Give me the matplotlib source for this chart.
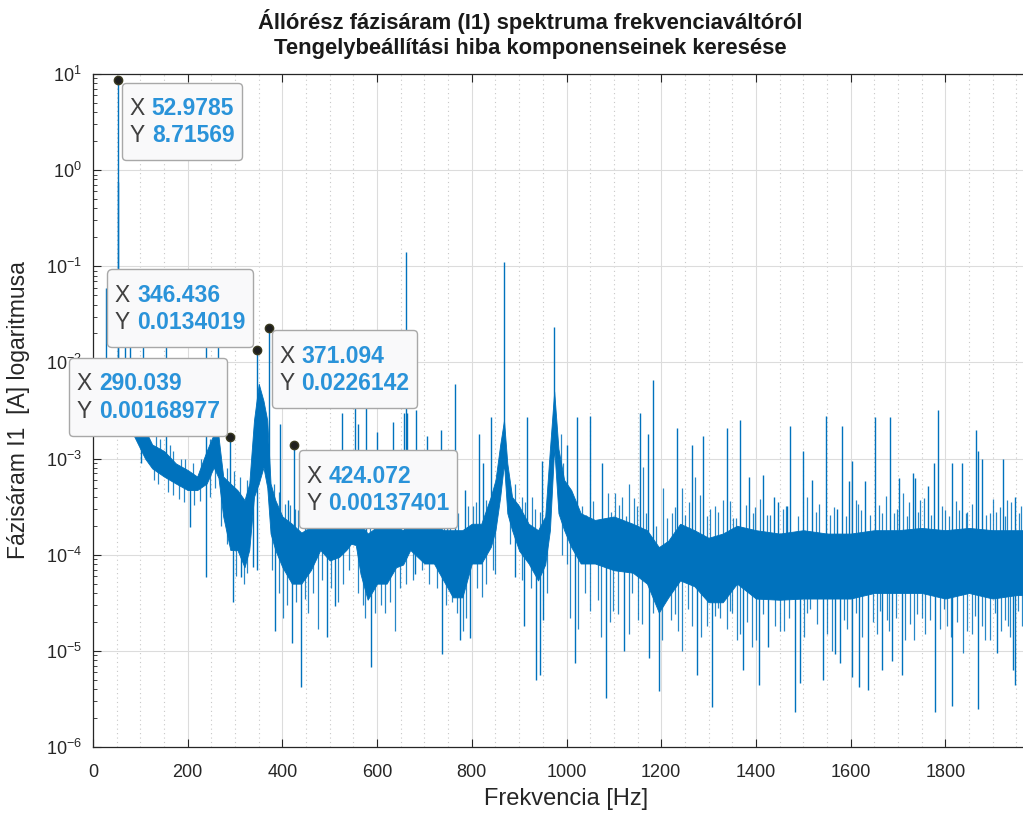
import numpy as np
import matplotlib.pyplot as plt
from matplotlib.offsetbox import TextArea, HPacker, VPacker, AnnotationBbox, DrawingArea
from matplotlib.ticker import FixedLocator, MultipleLocator, NullFormatter

plt.rcParams['font.family'] = ['Liberation Sans', 'DejaVu Sans']

# --- spectrum ---
# dense noise band: frequency [Hz], upper and lower edge [A]
env_f = [0, 20, 45, 60, 80, 100, 110, 125, 150, 175,
         200, 220, 240, 255, 265, 275, 290, 305, 320, 330,
         340, 350, 360, 368, 375, 385, 400, 420, 440, 460,
         480, 500, 520, 535, 545, 555, 565, 580, 600, 620,
         640, 655, 670, 700, 720, 740, 760, 780, 800, 820,
         840, 850, 860, 868, 875, 885, 900, 920, 940, 955,
         965, 974, 983, 995, 1010, 1030, 1060, 1100, 1140, 1170,
         1195, 1215, 1240, 1270, 1300, 1330, 1360, 1400, 1450, 1500,
         1550, 1600, 1650, 1700, 1750, 1800, 1850, 1900, 1950, 2000]
env_hi = [5.0e-3, 5.0e-3, 6.0e-3, 6.0e-3, 5.0e-3, 3.2e-3, 2.0e-3, 1.4e-3, 1.2e-3, 8.9e-4,
          7.6e-4, 6.5e-4, 1.2e-3, 1.8e-3, 1.7e-3, 6.5e-4, 5.5e-4, 4.7e-4, 3.7e-4, 5.5e-4,
          2.5e-3, 6.0e-3, 4.0e-3, 2.5e-3, 5.5e-4, 3.7e-4, 2.5e-4, 2.1e-4, 1.7e-4, 1.95e-4,
          2.1e-4, 2.1e-4, 2.1e-4, 2.1e-4, 2.0e-4, 1.9e-4, 2.1e-4, 1.66e-4, 1.95e-4, 2.1e-4,
          1.95e-4, 1.8e-4, 2.1e-4, 2.3e-4, 2.1e-4, 1.8e-4, 1.8e-4, 1.8e-4, 2.1e-4, 2.1e-4,
          4.0e-4, 6.0e-4, 1.4e-3, 2.5e-3, 8.9e-4, 4.0e-4, 3.2e-4, 2.1e-4, 1.8e-4, 2.5e-4,
          1.26e-3, 5.0e-3, 1.26e-3, 6.0e-4, 4.7e-4, 2.7e-4, 2.3e-4, 2.5e-4, 2.1e-4, 1.8e-4,
          1.2e-4, 1.4e-4, 2.1e-4, 1.8e-4, 1.5e-4, 1.66e-4, 2.0e-4, 1.8e-4, 1.66e-4, 1.8e-4,
          1.66e-4, 1.66e-4, 1.8e-4, 1.8e-4, 1.9e-4, 1.8e-4, 1.9e-4, 1.8e-4, 1.8e-4, 1.8e-4]
env_lo = [2.5e-3, 2.5e-3, 2.5e-3, 2.5e-3, 2.0e-3, 1.26e-3, 1.0e-3, 7.9e-4, 6.5e-4, 5.5e-4,
          4.7e-4, 4.7e-4, 5.5e-4, 8.1e-4, 6.3e-4, 2.5e-4, 1.12e-4, 1.12e-4, 7.4e-5, 1.12e-4,
          4.0e-4, 5.5e-4, 8.1e-4, 5.0e-4, 1.66e-4, 1.12e-4, 7.4e-5, 5.0e-5, 5.0e-5, 6.9e-5,
          1.12e-4, 8.7e-5, 9.5e-5, 1.12e-4, 1.3e-4, 1.26e-4, 6.3e-5, 3.4e-5, 5.0e-5, 5.0e-5,
          7.4e-5, 7.9e-5, 1.12e-4, 8.1e-5, 8.1e-5, 5.4e-5, 3.6e-5, 3.6e-5, 8.1e-5, 8.1e-5,
          1.2e-4, 1.8e-4, 4.0e-4, 8.9e-4, 2.7e-4, 1.8e-4, 1.1e-4, 8.1e-5, 5.4e-5, 7.9e-5,
          1.8e-4, 1.3e-3, 2.7e-4, 1.8e-4, 1.2e-4, 8.1e-5, 8.1e-5, 6.9e-5, 6.5e-5, 5.0e-5,
          2.5e-5, 3.6e-5, 5.4e-5, 4.7e-5, 3.2e-5, 3.2e-5, 5.0e-5, 3.5e-5, 3.4e-5, 3.5e-5,
          3.5e-5, 3.5e-5, 4.0e-5, 4.0e-5, 4.0e-5, 3.5e-5, 4.0e-5, 3.5e-5, 3.8e-5, 3.8e-5]

# single lines sticking out of the band upwards
up_f = [27, 52.5, 52.9785, 68, 78, 106, 154, 239, 264, 290.039,
        346.436, 371.094, 395, 412, 424.072, 526, 553, 560, 577, 600,
        634, 657, 660, 663, 682, 706, 716, 735, 765, 786,
        815, 824, 840, 868, 917, 949, 974, 1000, 1022, 1050,
        1075, 1156, 1173, 1183, 1234, 1266, 1289, 1340, 1367, 1386,
        1416, 1439, 1447, 1466, 1473, 1500, 1519, 1549, 1572, 1582,
        1597, 1604, 1631, 1652, 1684, 1703, 1731, 1737, 1764, 1777,
        1785, 1815, 1836, 1864, 1870, 1878, 1921, 1948]
up_v = [0.06, 0.75, 8.71569, 0.02, 0.02, 0.02, 0.02, 0.02, 0.02, 0.00168977,
        0.0134019, 0.0226142, 2.3e-3, 3.7e-4, 0.00137401, 3.0e-3, 3.5e-3, 2.3e-3, 3.5e-3, 1.9e-3,
        2.4e-3, 3.0e-3, 0.14, 3.0e-3, 3.2e-3, 1.7e-3, 5.5e-4, 2.0e-3, 5.9e-3, 4.7e-4,
        1.8e-3, 8.9e-4, 2.7e-3, 0.11, 2.7e-3, 9.5e-4, 0.0235, 1.4e-3, 2.7e-3, 2.8e-3,
        9.1e-4, 3.0e-3, 1.8e-3, 6.6e-3, 2.1e-3, 1.4e-3, 1.7e-3, 2.1e-3, 2.5e-3, 6.5e-4,
        6.8e-4, 4.0e-4, 3.5e-4, 3.2e-4, 2.2e-3, 1.2e-3, 6.0e-4, 2.8e-3, 3.0e-4, 2.2e-3,
        5.9e-4, 9.5e-4, 5.9e-4, 2.7e-3, 2.7e-3, 6.3e-4, 7.1e-4, 6.3e-4, 5.2e-4, 8.9e-4,
        3.2e-3, 8.9e-4, 8.9e-4, 2.0e-3, 1.2e-3, 1.0e-3, 1.0e-3, 4.0e-4]

# single lines sticking out of the band downwards
dn_f = [101, 205, 239, 296, 313, 338, 346, 385, 420, 440,
        494, 511, 587, 680, 737, 775, 797, 892, 911, 936,
        943, 950, 1018, 1084, 1122, 1175, 1196, 1276, 1308, 1373,
        1407, 1426, 1483, 1494, 1542, 1568, 1578, 1604, 1618, 1637,
        1667, 1688, 1709, 1779, 1815, 1870, 1910, 1942, 1948]
dn_v = [8.9e-4, 1.95e-4, 5.9e-5, 3.2e-5, 5.9e-5, 7.4e-5, 6.9e-5, 1.6e-5, 1.2e-5, 4.2e-6,
        1.4e-5, 2.9e-5, 6.8e-6, 6.3e-5, 9.3e-6, 1.3e-5, 1.35e-5, 5.9e-5, 1.8e-5, 5.0e-6,
        5.6e-6, 2.1e-5, 7.4e-6, 3.2e-6, 1.0e-5, 8.5e-6, 3.8e-6, 5.6e-6, 2.6e-6, 6.3e-6,
        4.4e-6, 1.1e-5, 2.3e-6, 4.6e-6, 5.0e-6, 9.3e-6, 7.4e-6, 5.4e-6, 4.2e-6, 3.9e-6,
        6.3e-6, 7.9e-6, 5.6e-6, 2.3e-6, 2.7e-6, 2.5e-6, 9.5e-6, 6.3e-6, 4.4e-6]

# short ragged lines at the upper edge of the band
fr_up_f = [132, 141, 162, 170, 185, 195, 212, 228, 247, 283,
           298, 311, 325, 382, 392, 406, 416, 426, 433, 447,
           458, 469, 476, 488, 497, 505, 515, 533, 548, 568,
           586, 594, 606, 611, 626, 645, 648, 668, 690, 712,
           722, 728, 742, 748, 755, 770, 793, 803, 808, 830,
           892, 898, 906, 913, 927, 933, 944, 988, 993, 1005,
           1012, 1033, 1042, 1057, 1088, 1095, 1103, 1110, 1118, 1126,
           1131, 1143, 1149, 1162, 1168, 1188, 1204, 1212, 1223, 1229,
           1244, 1251, 1259, 1272, 1281, 1296, 1303, 1314, 1320, 1331,
           1345, 1352, 1358, 1379, 1393, 1399, 1408, 1423, 1430, 1458,
           1464, 1488, 1508, 1527, 1534, 1556, 1565, 1590, 1611, 1616,
           1623, 1641, 1660, 1667, 1674, 1692, 1697, 1711, 1719, 1724,
           1742, 1747, 1756, 1770, 1792, 1800, 1808, 1822, 1829, 1843,
           1846, 1857, 1885, 1895, 1901, 1908, 1915, 1927, 1931, 1938,
           1955, 1959, 1966, 1975, 1988, 1996]
fr_up_v = [1.7e-3, 1.6e-3, 1.4e-3, 1.2e-3, 1.0e-3, 1.0e-3, 9.0e-4, 1.0e-3, 1.6e-3, 8.0e-4,
           7.5e-4, 6.5e-4, 6.0e-4, 5.5e-4, 4.5e-4, 3.4e-4, 3.3e-4, 3.0e-4, 2.9e-4, 2.7e-4,
           3.0e-4, 2.5e-4, 3.3e-4, 3.0e-4, 3.2e-4, 2.9e-4, 3.4e-4, 3.1e-4, 3.0e-4, 2.5e-4,
           2.8e-4, 3.3e-4, 2.9e-4, 2.5e-4, 3.1e-4, 2.4e-4, 2.8e-4, 3.5e-4, 3.6e-4, 3.0e-4,
           3.7e-4, 3.4e-4, 2.9e-4, 4.0e-4, 3.1e-4, 2.7e-4, 3.2e-4, 3.2e-4, 3.5e-4, 3.7e-4,
           5.5e-4, 3.4e-4, 4.0e-4, 3.5e-4, 4.0e-4, 3.0e-4, 2.8e-4, 1.8e-3, 9.0e-4, 3.0e-4,
           3.4e-4, 3.2e-4, 2.6e-4, 3.6e-4, 4.4e-4, 2.8e-4, 4.4e-4, 3.3e-4, 4.0e-4, 2.5e-4,
           5.5e-4, 3.9e-4, 3.2e-4, 8.1e-4, 2.7e-4, 2.0e-4, 5.0e-4, 2.4e-4, 2.7e-4, 3.1e-4,
           5.0e-4, 2.6e-4, 3.5e-4, 6.5e-4, 4.2e-4, 2.5e-4, 3.0e-4, 3.2e-4, 2.8e-4, 3.7e-4,
           3.6e-4, 2.4e-4, 2.4e-4, 3.3e-4, 2.7e-4, 3.1e-4, 3.8e-4, 2.6e-4, 2.6e-4, 3.0e-4,
           3.2e-4, 2.5e-4, 4.0e-4, 2.8e-4, 3.4e-4, 2.6e-4, 3.1e-4, 2.5e-4, 3.7e-4, 3.4e-4,
           2.9e-4, 2.6e-4, 3.3e-4, 2.7e-4, 4.1e-4, 2.7e-4, 3.0e-4, 4.4e-4, 2.5e-4, 3.5e-4,
           2.8e-4, 3.7e-4, 3.9e-4, 2.6e-4, 3.2e-4, 2.9e-4, 2.5e-4, 3.6e-4, 2.9e-4, 2.7e-4,
           2.8e-4, 3.4e-4, 2.6e-4, 2.7e-4, 3.8e-4, 2.8e-4, 3.1e-4, 2.5e-4, 3.7e-4, 3.5e-4,
           2.7e-4, 3.2e-4, 3.2e-4, 2.6e-4, 3.0e-4, 2.8e-4]

# short ragged lines at the lower edge of the band
fr_dn_f = [128, 138, 158, 168, 182, 192, 213, 226, 248, 258,
           270, 282, 302, 318, 326, 379, 392, 401, 410, 428,
           448, 454, 465, 475, 484, 503, 518, 527, 540, 560,
           570, 575, 595, 608, 617, 628, 638, 648, 662, 676,
           695, 710, 726, 745, 759, 768, 782, 788, 810, 822,
           830, 845, 850, 880, 905, 925, 958, 990, 1000, 1008,
           1025, 1039, 1050, 1067, 1073, 1092, 1099, 1108, 1131, 1139,
           1152, 1160, 1183, 1202, 1209, 1220, 1230, 1236, 1244, 1256,
           1264, 1285, 1297, 1313, 1321, 1325, 1338, 1345, 1350, 1360,
           1366, 1381, 1392, 1400, 1414, 1440, 1451, 1460, 1470, 1501,
           1508, 1515, 1530, 1551, 1561, 1586, 1593, 1611, 1625, 1647,
           1656, 1662, 1677, 1681, 1695, 1715, 1725, 1733, 1740, 1751,
           1757, 1768, 1789, 1797, 1804, 1811, 1825, 1838, 1845, 1857,
           1862, 1877, 1884, 1895, 1904, 1918, 1926, 1933, 1937, 1953,
           1962, 1972, 1980, 1990, 1998]
fr_dn_v = [6.0e-4, 5.5e-4, 4.5e-4, 4.2e-4, 3.8e-4, 3.5e-4, 3.3e-4, 3.6e-4, 4.0e-4, 5.0e-4,
           2.0e-4, 1.3e-4, 6.0e-5, 5.0e-5, 6.5e-5, 7.0e-5, 4.0e-5, 2.2e-5, 3.0e-5, 3.2e-5,
           3.5e-5, 2.5e-5, 4.0e-5, 1.7e-5, 5.5e-5, 4.5e-5, 3.2e-5, 5.0e-5, 7.0e-5, 4.0e-5,
           3.0e-5, 2.2e-5, 2.5e-5, 3.0e-5, 2.5e-5, 3.2e-5, 1.6e-5, 4.5e-5, 5.0e-5, 5.5e-5,
           6.9e-5, 5.0e-5, 4.5e-5, 3.0e-5, 3.2e-5, 2.5e-5, 1.6e-5, 2.2e-5, 4.5e-5, 3.6e-5,
           5.0e-5, 7.0e-5, 6.3e-5, 1.3e-4, 5.5e-5, 4.5e-5, 4.0e-5, 1.0e-4, 8.0e-5, 2.2e-5,
           1.7e-5, 4.0e-5, 2.6e-5, 3.4e-5, 1.4e-5, 2.0e-5, 2.6e-5, 2.4e-5, 1.5e-5, 4.0e-5,
           2.1e-5, 1.9e-5, 2.5e-5, 1.3e-5, 3.6e-5, 2.1e-5, 2.4e-5, 1.6e-5, 1.0e-5, 2.7e-5,
           1.8e-5, 1.4e-5, 1.8e-5, 2.3e-5, 2.8e-5, 2.2e-5, 1.7e-5, 2.6e-5, 2.5e-5, 1.3e-5,
           1.5e-5, 2.0e-5, 1.1e-5, 1.3e-5, 2.4e-5, 1.8e-5, 1.6e-5, 1.6e-5, 2.2e-5, 1.4e-5,
           2.5e-5, 2.7e-5, 1.9e-5, 1.5e-5, 1.0e-5, 2.1e-5, 1.7e-5, 2.5e-5, 1.4e-5, 2.0e-5,
           1.5e-5, 2.6e-5, 2.1e-5, 1.6e-5, 2.2e-5, 1.3e-5, 1.9e-5, 1.3e-5, 2.4e-5, 2.2e-5,
           1.5e-5, 2.1e-5, 1.7e-5, 2.7e-5, 1.8e-5, 1.4e-5, 2.0e-5, 9.5e-6, 1.6e-5, 1.5e-5,
           2.3e-5, 1.8e-5, 1.3e-5, 1.3e-5, 2.5e-5, 1.6e-5, 2.1e-5, 1.8e-5, 1.4e-5, 2.6e-5,
           1.8e-5, 1.5e-5, 2.2e-5, 1.9e-5, 2.4e-5]

# data tips
tip_x = [52.9785, 346.436, 290.039, 371.094, 424.072]
tip_y = [8.71569, 0.0134019, 0.00168977, 0.0226142, 0.00137401]
tip_xs = ['52.9785', '346.436', '290.039', '371.094', '424.072']
tip_ys = ['8.71569', '0.0134019', '0.00168977', '0.0226142', '0.00137401']
tip_off = [(2.9, -2.2), (-2.9, 2.2), (-2.2, 0.7), (2.2, -1.4), (3.6, -3.6)]
tip_align = [(0, 1), (1, 0), (1, 0), (0, 1), (0, 1)]
x_ticks = [0, 200, 400, 600, 800, 1000, 1200, 1400, 1600, 1800]
y_ticks = [1e-6, 1e-5, 1e-4, 1e-3, 1e-2, 1e-1, 1e0, 1e1]

line_c = '#0072BD'

fig = plt.figure(figsize=(10.23, 8.17), dpi=100)
ax = fig.add_axes([93 / 1023, 1 - 747 / 817, 947 / 1023, 673 / 817])

ax.set_yscale('log')
ax.set_xlim(0, 2000)
ax.set_ylim(1e-6, 10)

ax.fill_between(env_f, env_lo, env_hi, color=line_c, lw=0.6, zorder=2)
mid = np.sqrt(np.array(env_lo) * np.array(env_hi))
ax.vlines(up_f, np.interp(up_f, env_f, mid), up_v, color=line_c, lw=1.0, zorder=2)
ax.vlines(dn_f, dn_v, np.interp(dn_f, env_f, mid), color=line_c, lw=1.0, zorder=2)
ax.vlines(fr_up_f, np.interp(fr_up_f, env_f, mid), fr_up_v, color=line_c, lw=0.9, alpha=0.85, zorder=2)
ax.vlines(fr_dn_f, fr_dn_v, np.interp(fr_dn_f, env_f, mid), color=line_c, lw=0.9, alpha=0.85, zorder=2)

# axes look (MATLAB like)
minor_y = [m * d for d in y_ticks[:-1] for m in range(2, 10)]
ax.xaxis.set_major_locator(FixedLocator(x_ticks))
ax.xaxis.set_minor_locator(MultipleLocator(50))
ax.yaxis.set_major_locator(FixedLocator(y_ticks))
ax.yaxis.set_minor_locator(FixedLocator(minor_y))
ax.yaxis.set_minor_formatter(NullFormatter())
ax.grid(which='major', color='#dcdcdc', lw=0.8)
ax.grid(which='minor', axis='x', color='#c8c8c8', ls=(0, (1, 3)), lw=0.8)
ax.set_axisbelow(True)
ax.tick_params(which='both', direction='in', top=True, right=True,
               labelsize=13, colors='#262626')
ax.tick_params(which='major', length=6)
ax.tick_params(axis='x', which='major', pad=12)
ax.tick_params(axis='y', which='major', pad=8)
ax.tick_params(axis='y', which='minor', length=3)
ax.tick_params(axis='x', which='minor', length=0)
for s in ax.spines.values():
    s.set_color('#262626')
    s.set_linewidth(0.9)

ax.set_xlabel('Frekvencia [Hz]', fontsize=17, color='#262626', labelpad=5)
ax.set_ylabel('Fázisáram I1  [A] logaritmusa', fontsize=16.5, color='#262626')
ax.yaxis.set_label_coords(-0.066, 0.5)
fig.text(0.518, 1 - 9 / 817, 'Állórész fázisáram (I1) spektruma frekvenciaváltóról\n'
         'Tengelybeállítási hiba komponenseinek keresése',
         ha='center', va='top', fontsize=15.8, fontweight='bold',
         color='#1a1a1a', linespacing=1.25)

# data tips
for x, y, xs, ys, off, al in zip(tip_x, tip_y, tip_xs, tip_ys, tip_off, tip_align):
    ax.plot(x, y, 'o', ms=6, mfc='#1f1f1f', mec='#3a3a20', zorder=7, clip_on=False)
    rows = [DrawingArea(1, 2)]
    for lab, val in (('X', xs), ('Y', ys)):
        rows.append(HPacker(children=[
            TextArea(lab, textprops=dict(color='#404040', fontsize=16.5)),
            TextArea(val, textprops=dict(color='#2a93d9', fontsize=16.5, fontweight='bold'))],
            pad=0, sep=5, align='baseline'))
    rows.append(DrawingArea(1, 1))
    box = VPacker(children=rows, pad=5.4, sep=3, align='left')
    ab = AnnotationBbox(box, (x, y), xybox=off, boxcoords='offset points',
                        box_alignment=al, frameon=True, zorder=8,
                        bboxprops=dict(boxstyle='round,pad=0,rounding_size=0.3',
                                       fc='#f9f9fa', ec='#a8a8a8', lw=1.0))
    ax.add_artist(ab)

fig.savefig('out.png', dpi=100)
